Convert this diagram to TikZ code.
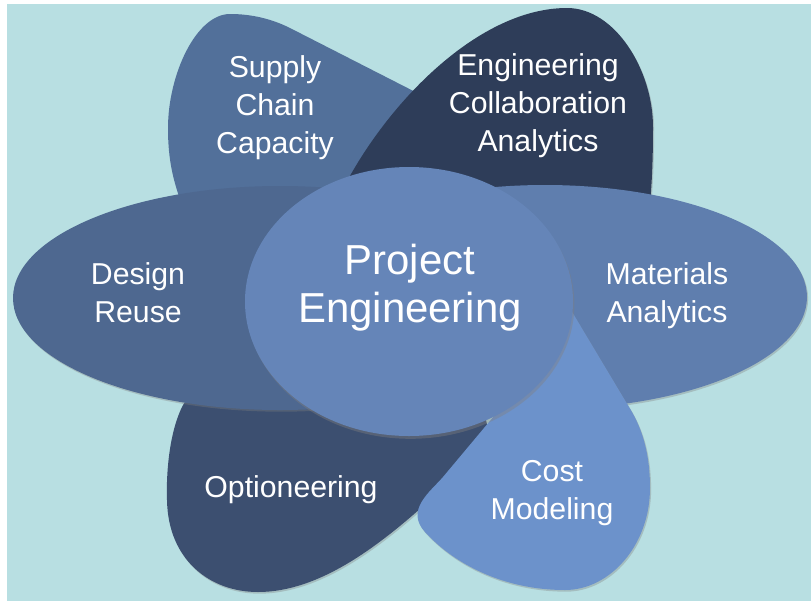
\documentclass[tikz,border=0pt]{standalone}
\usepackage{fontspec}
\setsansfont{Liberation Sans}
\usepackage{tikz}
\usetikzlibrary{shadows}

\definecolor{bgcyan}{HTML}{B8DFE2}
\definecolor{supplyblue}{HTML}{52709A}
\definecolor{collabnavy}{HTML}{2E3D59}
\definecolor{materialsblue}{HTML}{5F7EAE}
\definecolor{costblue}{HTML}{6C92CB}
\definecolor{optionnavy}{HTML}{3C4F70}
\definecolor{reuseblue}{HTML}{4E6890}
\definecolor{hubblue}{HTML}{6585B8}

\begin{document}
\begin{tikzpicture}[x=0.025cm, y=-0.025cm,
    petal/.style={drop shadow={opacity=0.35, shadow xshift=0.8pt, shadow yshift=-1.2pt}},
    petallabel/.style={text=white, inner sep=0pt, align=center, font=\sffamily\fontsize{21.5}{27}\selectfont},
    hublabel/.style={text=white, inner sep=0pt, align=center, font=\sffamily\fontsize{29.8}{34.1}\selectfont}]
    %\draw[help lines, step=50] (0,0) grid (811,601);
    \useasboundingbox (0,0) rectangle (811,601);
    \fill[white] (0,0) rectangle (811,601);
    \fill[bgcyan] (7,4) rectangle (811,601);

    % -------------------------
    % Lower left petal
    % -------------------------
    \fill[optionnavy, petal] (200,380) -- (183,405)
        .. controls (170,430) and (166,470) .. (167,500)
        .. controls (168,560) and (210,592) .. (258,592)
        .. controls (320,592) and (380,545) .. (430,500)
        -- (500,470) -- (480,400) -- (300,350) -- cycle;

    % -------------------------
    % Upper left petal
    % -------------------------
    \fill[supplyblue, petal] (480,125) -- (290,28)
        .. controls (272,19) and (252,14) .. (230,14)
        .. controls (196,14) and (168,75) .. (168,128)
        .. controls (168,160) and (173,180) .. (182,205)
        -- (230,300) -- (400,330) -- cycle;

    % -------------------------
    % Upper right petal
    % -------------------------
    \fill[collabnavy, petal] (400,300) -- (345,185)
        .. controls (390,100) and (480,8) .. (567,8)
        .. controls (615,8) and (653,70) .. (653,127)
        .. controls (653,160) and (652,180) .. (650,205)
        -- (640,240) -- (520,260) -- cycle;

    % -------------------------
    % Right petal
    % -------------------------
    \fill[materialsblue, petal] (545,297) ellipse [x radius=262, y radius=112];

    % -------------------------
    % Lower right petal
    % -------------------------
    \fill[costblue, petal] (565,300) -- (632,412)
        .. controls (645,435) and (650,460) .. (650,488)
        .. controls (650,545) and (610,590) .. (565,590)
        .. controls (505,590) and (455,565) .. (425,532)
        .. controls (405,510) and (430,492) .. (443,477)
        -- (520,385) -- cycle;

    % -------------------------
    % Left petal
    % -------------------------
    \fill[reuseblue, petal] (280,298) ellipse [x radius=267, y radius=112];

    % -------------------------
    % Hub
    % -------------------------
    \fill[hubblue, drop shadow={opacity=0.4, shadow xshift=1pt, shadow yshift=-2pt}]
        (409,301.5) ellipse [x radius=164, y radius=134.5];

    % labels
    \node[petallabel] (supply) at (275,108) {Supply\\Chain\\Capacity};
    \node[petallabel] (collab) at (538,106) {Engineering\\Collaboration\\Analytics};
    \node[petallabel] (reuse) at (138,293) {Design\\Reuse};
    \node[petallabel] (materials) at (667,296) {Materials\\Analytics};
    \node[petallabel] (options) at (291,490) {Optioneering};
    \node[petallabel] (cost) at (552,493) {Cost\\Modeling};
    \node[hublabel] (hub) at (410,288) {Project\\Engineering};

\end{tikzpicture}
\end{document}
